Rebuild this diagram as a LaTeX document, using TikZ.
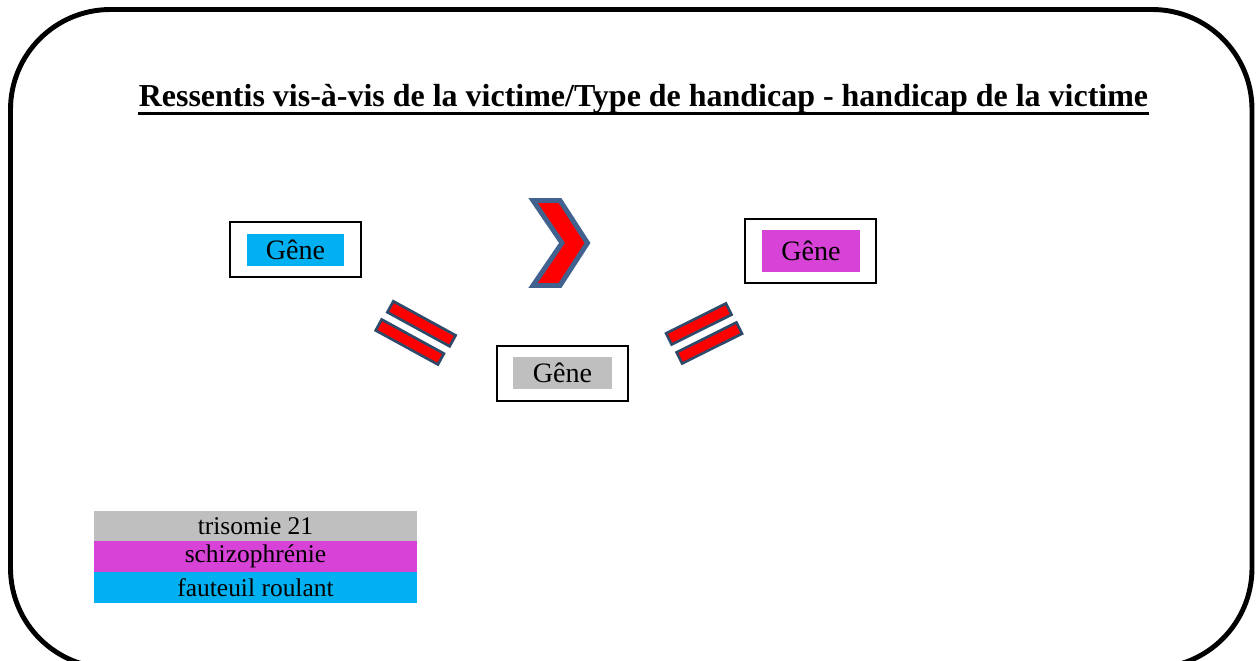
\documentclass[tikz,border=0pt]{standalone}
\usepackage{fontspec}
\setmainfont{Liberation Serif}
\definecolor{fauteuil}{HTML}{00B0F0}
\definecolor{schizo}{HTML}{D742D7}
\definecolor{trisomie}{HTML}{BFBFBF}
\definecolor{chevronbord}{HTML}{41628F}
\definecolor{barrebord}{HTML}{2E4A6B}
\begin{document}
\begin{tikzpicture}[x=0.02cm, y=-0.02cm,
    cadre/.style={draw, line width=1.1pt, minimum width=2.62cm, minimum height=1.1cm, inner sep=0pt},
    etiquette/.style={inner sep=0pt, minimum width=1.95cm, minimum height=0.64cm, font=\fontsize{16}{18}\selectfont},
    legende/.style={inner sep=0pt, minimum width=6.46cm, minimum height=0.62cm, font=\fontsize{14.5}{16}\selectfont},
    barre/.style={draw=barrebord, line width=1.5pt, fill=red, minimum width=1.42cm, minimum height=0.25cm, inner sep=0pt}]
    \useasboundingbox (0,0) rectangle (1260,661);
    \clip (0,0) rectangle (1260,661);
    % cadre arrondi
    \draw[line width=2.8pt, rounded corners=2cm] (10.5,9.5) rectangle (1252,668);
    % titre
    \node[anchor=base, inner sep=0pt, font=\fontsize{18.2}{21}\selectfont\bfseries] (titre) at (643.5,107)
        {Ressentis vis-à-vis de la victime/Type de handicap - handicap de la victime};
    \draw[line width=2pt] ([yshift=-3.6pt]titre.base west) -- ([yshift=-3.6pt]titre.base east);
    % gene fauteuil
    \node[cadre] (cadreA) at (295.5,249.5) {};
    \node[etiquette, fill=fauteuil] (geneA) at (295.5,250) {Gêne};
    % gene trisomie
    \node[cadre] (cadreB) at (562.5,373.5) {};
    \node[etiquette, fill=trisomie, minimum width=1.98cm] (geneB) at (562.5,373) {Gêne};
    % gene schizophrenie
    \node[cadre, minimum height=1.28cm] (cadreC) at (810.5,251) {};
    \node[etiquette, fill=schizo, minimum height=0.84cm] (geneC) at (811,251) {Gêne};
    % chevron
    \draw[draw=chevronbord, line width=2.8pt, fill=red, line join=miter]
        (533,200.5) -- (560,200.5) -- (587.5,243) -- (560,285.5) -- (533,285.5) -- (562,243) -- cycle;
    % signes egal
    \node[barre, rotate=-28.7] (egalA1) at (421.5,323.8) {};
    \node[barre, rotate=-28.7] (egalA2) at (409.8,342) {};
    \node[barre, rotate=26.5, minimum width=1.34cm] (egalB1) at (698.8,324) {};
    \node[barre, rotate=26.5, minimum width=1.34cm] (egalB2) at (709.3,343) {};
    % legende
    \node[legende, fill=trisomie] (legT) at (255.5,526) {trisomie 21};
    \node[legende, fill=schizo] (legS) at (255.5,556.5) {schizophrénie};
    \node[legende, fill=fauteuil] (legF) at (255.5,587.5) {fauteuil roulant};
\end{tikzpicture}
\end{document}
